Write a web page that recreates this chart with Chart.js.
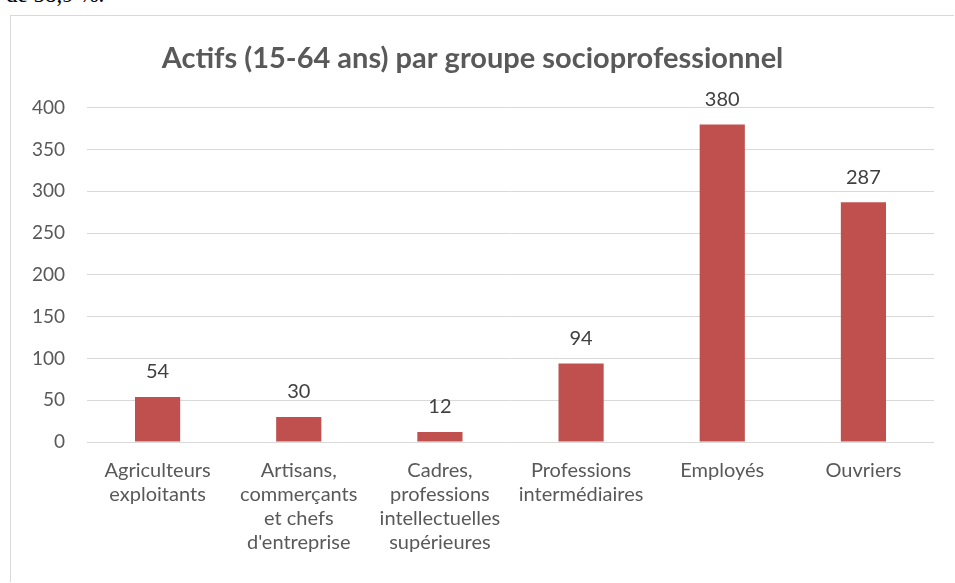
<!DOCTYPE html>
<html>
<head>
<meta charset="utf-8">
<script src="https://cdn.jsdelivr.net/npm/chart.js@4.4.0/dist/chart.umd.min.js"></script>
<style>
  body { margin: 0; background: #fff; width: 955px; height: 583px; overflow: hidden; position: relative; }
  #above { position: absolute; left: 6px; top: -18px; font-family: "Liberation Serif", serif; font-size: 23px; color: #000; }
  #box { position: absolute; left: 10px; top: 15px; width: 944px; height: 567px; border: 1px solid #d9d9d9; border-right: none; border-bottom: none; box-sizing: border-box; }
  canvas { display: block; }
</style>
</head>
<body>
<div id="above">de 58,9 %.</div>
<div id="box"><canvas id="chart" width="943" height="566"></canvas></div>
<script>
// Data
const categories = [
  ['Agriculteurs', 'exploitants'],
  ['Artisans,', 'commerçants', 'et chefs', "d'entreprise"],
  ['Cadres,', 'professions', 'intellectuelles', 'supérieures'],
  ['Professions', 'intermédiaires'],
  'Employés',
  'Ouvriers'
];
const actifs = [54, 30, 12, 94, 380, 287];
const yTicks = [0, 50, 100, 150, 200, 250, 300, 350, 400];

const textColor = '#595959';
const fontFamily = 'Lato, "Open Sans", sans-serif';

// Simple value labels drawn above each bar
const valueLabels = {
  id: 'valueLabels',
  afterDatasetsDraw(chart) {
    const ctx = chart.ctx;
    ctx.save();
    ctx.font = '20px ' + fontFamily;
    ctx.fillStyle = '#404040';
    ctx.textAlign = 'center';
    ctx.textBaseline = 'middle';
    chart.getDatasetMeta(0).data.forEach((bar, i) => {
      ctx.fillText(actifs[i], bar.x, bar.y - 25);
    });
    ctx.restore();
  }
};

new Chart(document.getElementById('chart'), {
  type: 'bar',
  data: {
    labels: categories,
    datasets: [{
      data: actifs,
      backgroundColor: '#C0504D',
      barPercentage: 0.32,
      categoryPercentage: 1
    }]
  },
  options: {
    responsive: false,
    animation: false,
    layout: { padding: { left: 0, right: 20, top: 0, bottom: 0 } },
    plugins: {
      legend: { display: false },
      tooltip: { enabled: false },
      title: {
        display: true,
        text: 'Actifs (15-64 ans) par groupe socioprofessionnel',
        color: textColor,
        font: { family: fontFamily, size: 29, weight: 'bold' },
        padding: { top: 25, bottom: 32 }
      }
    },
    scales: {
      y: {
        min: 0,
        max: 400,
        afterBuildTicks: (s) => { s.ticks = yTicks.map(v => ({ value: v })); },
        afterFit: (s) => { s.width = 76; },
        border: { display: false },
        grid: { color: '#d9d9d9', drawTicks: false },
        ticks: { color: textColor, padding: 22, font: { family: fontFamily, size: 19 } }
      },
      x: {
        afterFit: (s) => { s.height = 140; },
        border: { display: false },
        grid: { display: false },
        ticks: {
          color: textColor,
          padding: 9,
          maxRotation: 0,
          autoSkip: false,
          font: { family: fontFamily, size: 20, lineHeight: 1.2 }
        }
      }
    }
  },
  plugins: [valueLabels]
});
</script>
</body>
</html>
